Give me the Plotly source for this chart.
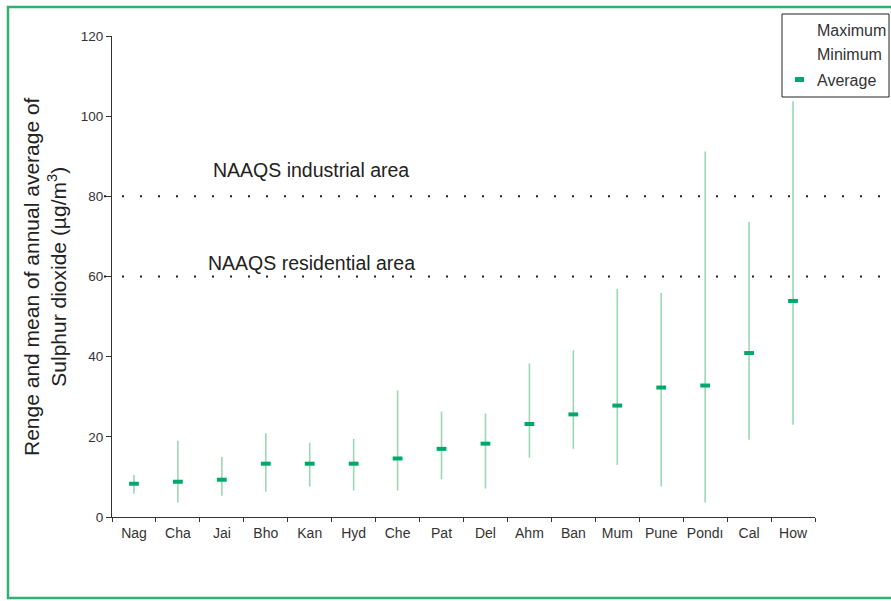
import plotly.graph_objects as go

cities = ["Nag", "Cha", "Jai", "Bho", "Kan", "Hyd", "Che", "Pat", "Del", "Ahm",
          "Ban", "Mum", "Pune", "Pondı", "Cal", "How"]
maximum = [10.5, 19.0, 15.0, 20.9, 18.5, 19.5, 31.6, 26.3, 25.8, 38.3,
           41.6, 56.9, 55.9, 91.2, 73.6, 103.7]
minimum = [5.8, 3.6, 5.3, 6.3, 7.6, 6.6, 6.6, 9.4, 7.1, 14.8,
           17.0, 13.0, 7.6, 3.6, 19.3, 23.0]
average = [8.3, 8.8, 9.3, 13.3, 13.3, 13.3, 14.6, 17.0, 18.3, 23.2,
           25.6, 27.8, 32.3, 32.8, 40.9, 53.9]
standards = [80, 60]
standard_labels = ["NAAQS industrial area", "NAAQS residential area"]
y_ticks = [0, 20, 40, 60, 80, 100, 120]

W, H = 891, 601                   # screen / figure size
L, R, T, B = 112, 815, 36, 517    # plot area in screen pixels
PW, PH = R - L, B - T


def px(x):
    return (x - L) / PW


def py(y):
    return (B - y) / PH


FONT = "Liberation Sans, Arial, Helvetica, sans-serif"
GREEN = "#00a86b"
LIGHT = "#9bd7b5"

fig = go.Figure()
fig.add_trace(go.Scatter(
    x=cities, y=average, mode="markers",
    marker=dict(symbol="line-ew", size=7, color=GREEN,
                line=dict(width=4, color=GREEN)),
    error_y=dict(type="data", symmetric=False,
                 array=[mx - a for mx, a in zip(maximum, average)],
                 arrayminus=[a - mn for mn, a in zip(minimum, average)],
                 width=0, thickness=1.6, color=LIGHT),
    showlegend=False, hoverinfo="skip",
))

shapes = []
annotations = []
# standard lines
for val in standards:
    shapes.append(dict(type="line", xref="paper", yref="y",
                       x0=px(104), x1=px(888), y0=val, y1=val,
                       line=dict(color="#222", width=2, dash="2px,16px")))
label_y = [170, 263]
for txt, yy in zip(standard_labels, label_y):
    annotations.append(dict(text=txt, xref="paper", yref="paper",
                            x=px(311), y=py(yy), xanchor="center", yanchor="middle",
                            showarrow=False, font=dict(size=19.5, color="#222", family=FONT)))

# outer green border
shapes.append(dict(type="rect", xref="paper", yref="paper",
                   x0=px(8), x1=px(895), y0=py(598), y1=py(7),
                   line=dict(color="#2db36f", width=2.5), fillcolor="rgba(0,0,0,0)"))

# legend box
shapes.append(dict(type="rect", xref="paper", yref="paper",
                   x0=px(782), x1=px(889), y0=py(97), y1=py(14),
                   line=dict(color="#222", width=1), fillcolor="white"))
shapes.append(dict(type="rect", xref="paper", yref="paper",
                   x0=px(795), x1=px(804), y0=py(82), y1=py(77),
                   line=dict(width=0), fillcolor=GREEN))
for txt, yy in zip(["Maximum", "Minimum", "Average"], [30, 55, 80]):
    annotations.append(dict(text=txt, xref="paper", yref="paper",
                            x=px(815), y=py(yy), xanchor="left", yanchor="middle",
                            showarrow=False, font=dict(size=16, color="#333", family=FONT)))

# y axis title
annotations.append(dict(text="Renge and mean of annual average of<br>Sulphur dioxide (µg/m<sup>3</sup>)",
                        xref="paper", yref="paper", x=px(45), y=py(277),
                        xanchor="center", yanchor="middle", textangle=-90,
                        showarrow=False, font=dict(size=21, color="#222", family=FONT)))

fig.update_layout(
    width=W, height=H,
    margin=dict(l=L, r=W - R, t=T, b=H - B, pad=0),
    paper_bgcolor="white", plot_bgcolor="white",
    font=dict(family=FONT, size=13.5, color="#333"),
    shapes=shapes, annotations=annotations,
    xaxis=dict(type="category", showgrid=False, zeroline=False,
               showline=True, linecolor="#333", linewidth=1,
               ticks="outside", ticklen=4, tickcolor="#333", tickson="boundaries",
               tickangle=0, ticklabelstandoff=3,
               tickfont=dict(size=14, color="#333"), range=[-0.5, 15.5]),
    yaxis=dict(range=[0, 120], tickvals=y_ticks, showgrid=False, zeroline=False,
               showline=True, linecolor="#333", linewidth=1,
               ticks="outside", ticklen=5, tickcolor="#333",
               tickfont=dict(size=13.5, color="#333")),
)

fig.write_html("out.html",
               config={"displayModeBar": False},
               post_script="document.body.style.margin='0';"
                           "document.documentElement.style.overflow='hidden';")
